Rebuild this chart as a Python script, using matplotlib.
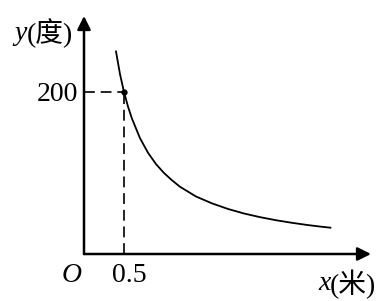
import matplotlib.pyplot as plt

# points (x in metres, y in degrees)
curve_x = [0.4, 0.45, 0.5, 0.55, 0.6, 0.7, 0.8, 0.9, 1.0, 1.1, 1.2, 1.4, 1.6,
           1.8, 2.0, 2.2, 2.4, 2.6, 2.8, 3.0, 3.08]
curve_y = [250, 222, 200, 182, 167, 143, 125, 111, 100, 91, 83, 71, 62.5,
           55.6, 50, 45.5, 41.7, 38.5, 35.7, 33.3, 32.5]
mark_x = 0.5
mark_y = 200
tick_x_label = '0.5'
tick_y_label = '200'

fig = plt.figure(figsize=(3.88, 3.01), dpi=100)
ax = fig.add_axes([0, 0, 1, 1])
ax.axis('off')
# pixel mapping: x axis at y=254px, y axis at x=84px
ax.set_xlim(-84 / 80, (388 - 84) / 80)
ax.set_ylim(-(301 - 254) / 0.81, 254 / 0.81)

# axes with arrows
arrow = dict(arrowstyle='-|>', color='black', lw=1.8, mutation_scale=20,
             shrinkA=0, shrinkB=0)
ax.annotate('', xy=((371 - 84) / 80, 0), xytext=(0, 0), arrowprops=arrow)
ax.annotate('', xy=(0, (254 - 16) / 0.81), xytext=(0, 0), arrowprops=arrow)

# curve
ax.plot(curve_x, curve_y, color='black', lw=1.3)

# dashed guides
dash = (0, (6.5, 3.5))
ax.plot([0, mark_x], [mark_y, mark_y], color='black', lw=1.2, ls=dash)
ax.plot([mark_x, mark_x], [0, mark_y], color='black', lw=1.2, ls=dash)
ax.plot([mark_x], [mark_y], 'o', color='black', ms=3.5)

serif = ['Liberation Serif', 'Noto Sans CJK SC']
fs = 20

ax.text(-6 / 80, mark_y - 2 / 0.81, tick_y_label, ha='right', va='center',
        fontsize=fs, family=serif)
ax.text((129 - 84) / 80, -22 / 0.81, tick_x_label, ha='center', va='center',
        fontsize=fs, family=serif)
ax.text(-12 / 80, -22 / 0.81, 'O', ha='center', va='center',
        fontsize=fs, family=serif, style='italic')

ax.text(-70 / 80, (254 - 33) / 0.81, 'y', ha='left', va='center',
        fontsize=fs, family=serif, style='italic')
ax.text(-57 / 80, (254 - 33) / 0.81, '(度)', ha='left', va='center',
        fontsize=fs, family=serif)

ax.text((318 - 84) / 80, -30 / 0.81, 'x', ha='left', va='center',
        fontsize=fs, family=serif, style='italic')
ax.text((330 - 84) / 80, -30 / 0.81, '(米)', ha='left', va='center',
        fontsize=fs, family=serif)

fig.savefig('out.png', dpi=100)
